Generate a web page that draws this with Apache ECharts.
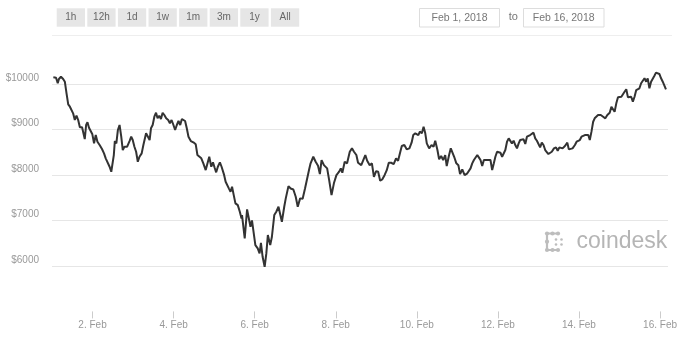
<!DOCTYPE html>
<html>
<head>
<meta charset="utf-8">
<script src="https://cdn.jsdelivr.net/npm/echarts@6/dist/echarts.min.js"></script>
<style>html,body{margin:0;padding:0;background:#fff;}#c{width:680px;height:340px;}</style>
</head>
<body>
<div id="c"></div>
<script>
// hours since Feb 1, 2018 00:00
const hours = [0.8,2.4,3.4,4.1,5.3,6.6,7.6,8.6,9.6,10.6,11.6,12.5,13.5,14.5,15.5,16.5,17.8,18.6,19.4,20.2,21.0,21.9,22.8,23.9,24.9,25.9,26.9,28.2,29.6,30.8,31.8,32.8,34.1,35.1,35.9,36.6,37.2,38.1,39.0,40.0,41.0,41.9,42.9,44.5,45.9,46.9,47.8,48.8,49.8,50.8,51.8,53.1,54.1,54.7,55.7,56.6,57.8,58.6,59.6,60.6,61.6,62.5,63.5,64.5,65.5,66.5,67.6,68.8,69.8,70.8,71.9,72.9,73.9,74.9,75.9,76.9,77.8,78.8,79.8,80.8,82.2,83.7,85.1,86.1,87.2,88.4,89.6,91.0,91.9,93.1,94.3,95.3,96.3,97.2,98.2,99.4,100.4,101.8,102.8,103.7,104.7,105.7,106.6,107.6,108.6,110.0,111.2,112.2,112.5,114.1,115.5,117.5,118.4,120.4,121.8,122.9,123.7,124.7,125.9,126.9,127.8,129.2,130.2,131.6,132.8,134.1,136.1,137.5,138.4,140.0,141.3,142.9,144.3,145.5,146.9,148.4,149.8,150.8,152.2,153.1,154.7,156.1,157.5,158.6,159.6,161.0,162.9,164.1,165.5,166.9,168.4,170.0,171.0,171.9,173.3,174.7,176.3,177.6,178.8,180.2,181.2,182.2,183.1,184.1,185.5,186.6,188.1,189.4,190.6,191.9,193.1,194.3,195.5,196.9,198.2,199.4,200.8,202.3,203.7,204.9,206.0,207.1,208.6,210.0,211.6,212.9,213.9,215.1,215.9,216.9,217.8,219.0,220.0,221.0,221.9,223.3,224.7,225.9,226.9,228.2,229.2,230.4,231.6,232.8,233.7,235.1,236.1,237.1,238.1,239.4,240.6,241.6,242.9,244.3,245.9,246.9,247.8,248.8,249.8,250.8,251.8,252.7,253.7,254.7,255.7,256.6,257.6,258.6,259.6,260.6,261.6,262.5,263.5,264.5,265.5,266.5,267.5,268.4,269.4,270.4,271.4,272.3,273.3,274.3,275.3,276.3,277.2,278.2,279.2,280.2,281.2,282.2,283.1,284.1,285.1,286.1,287.1,288.1,289.0,290.0,291.0,292.0,292.9,293.9,294.9,295.9,297.2,298.4,299.4,300.4,301.3,302.3,303.7,305.1,306.0,307.0,308.2,309.6,310.6,311.6,312.5,313.5,314.5,315.5,316.5,317.5,318.4,319.4,320.4,321.3,322.3,323.3,324.9,326.3,327.6,328.8,330.2,331.2,332.2,333.1,334.1,335.1,336.1,337.1,338.0,339.0,340.0,341.0,341.9,342.9,343.9,344.9,345.9,346.9,347.8,348.8,349.8,350.8,351.8,352.7,353.7,354.7,355.7,356.6,357.6,358.6,359.6,360.6,361.6,362.5,363.5];
const prices = [10154,10145,10022,10117,10167,10117,10057,9802,9559,9507,9529,9361,9214,9308,9214,9053,9053,9031,8795,9104,9163,9044,9088,8899,8700,8883,8736,8663,8575,8480,8370,8370,8185,8075,8090,8443,8751,8700,8993,9104,8846,8553,8626,8626,8751,8846,8773,8626,8515,8295,8405,8480,8663,8700,8921,8883,8773,9031,9104,9286,9374,9251,9308,9236,9374,9324,9251,9214,9141,9214,9104,8993,9104,9192,9104,9236,9264,9192,9031,8846,8751,8722,8678,8443,8458,8370,8260,8112,8112,8405,8185,8282,8163,8062,8185,8282,8185,8018,7855,7892,7709,7634,7744,7561,7379,7341,7194,7048,7121,6608,7247,6864,7004,6460,6387,6277,6511,6203,5983,6277,6681,6460,6644,7121,7194,7304,6974,7304,7489,7758,7707,7685,7524,7304,7489,7480,7707,7685,8117,8260,8405,8295,8207,8022,8330,8220,8150,7890,7560,7820,8000,8075,8150,8053,8295,8260,8515,8590,8515,8443,8273,8295,8220,8260,8443,8317,8220,8260,7963,8088,8075,7876,7905,8000,8110,8273,8273,8245,8370,8317,8480,8641,8663,8568,8590,8715,8883,8921,8958,8883,8958,8921,9066,8921,8700,8590,8663,8626,8758,8553,8348,8420,8333,8443,8200,8443,8590,8553,8405,8260,8220,8022,8125,8000,8040,8000,8150,8260,8333,8348,8443,8392,8333,8200,8333,8295,8333,8295,8333,8112,8260,8405,8515,8515,8493,8405,8443,8553,8736,8810,8832,8700,8758,8663,8590,8700,8773,8736,8789,8685,8846,8861,8883,8921,8935,8810,8758,8773,8612,8715,8663,8553,8538,8465,8493,8515,8590,8612,8538,8612,8568,8590,8641,8715,8568,8538,8590,8663,8736,8736,8773,8846,8810,8883,8846,8883,8773,8958,9176,9251,9214,9324,9324,9286,9251,9324,9374,9507,9471,9397,9581,9713,9742,9727,9764,9837,9890,9713,9670,9727,9617,9727,9874,9837,9912,10022,10079,10132,10057,10132,9912,10057,10095,10183,10256,10300,10227,10132,10057,10095,9890];
const tickHours = [24,72,120,168,216,264,312,360];
const tickLabels = ['2. Feb','4. Feb','6. Feb','8. Feb','10. Feb','12. Feb','14. Feb','16. Feb'];
const yTicks = [6000,7000,8000,9000,10000];
const rangeButtons = ['1h','12h','1d','1w','1m','3m','1y','All'];
const dateFrom = 'Feb 1, 2018';
const dateTo = 'Feb 16, 2018';
const brand = 'coindesk';

const FONT = '"Liberation Sans", Arial, sans-serif';
const chart = echarts.init(document.getElementById('c'));

const graphics = [];
rangeButtons.forEach((b, i) => {
  const x = 56.7 + i * 30.6;
  graphics.push({type:'rect', shape:{x:x, y:8.3, width:28.3, height:18.4}, style:{fill:'#e6e6e6'}, silent:true});
  graphics.push({type:'text', x:x + 14.15, y:17.5, style:{text:b, fill:'#666', font:'10px ' + FONT, textAlign:'center', textVerticalAlign:'middle'}, silent:true});
});
graphics.push({type:'line', shape:{x1:52, y1:35.5, x2:672, y2:35.5}, style:{stroke:'#eeeeee', lineWidth:1}, silent:true});
graphics.push({type:'rect', shape:{x:419.5, y:8.5, width:80, height:18.5}, style:{fill:'#fff', stroke:'#dddddd', lineWidth:1}, silent:true});
graphics.push({type:'text', x:459.5, y:17.8, style:{text:dateFrom, fill:'#777', font:'10.5px ' + FONT, textAlign:'center', textVerticalAlign:'middle'}, silent:true});
graphics.push({type:'text', x:513.3, y:17.3, style:{text:'to', fill:'#777', font:'11px ' + FONT, textAlign:'center', textVerticalAlign:'middle'}, silent:true});
graphics.push({type:'rect', shape:{x:523.5, y:8.5, width:80.5, height:18.5}, style:{fill:'#fff', stroke:'#dddddd', lineWidth:1}, silent:true});
graphics.push({type:'text', x:563.7, y:17.8, style:{text:dateTo, fill:'#777', font:'10.5px ' + FONT, textAlign:'center', textVerticalAlign:'middle'}, silent:true});
// logo icon (dotted bracket)
const ic = '#bdbdbd';
graphics.push({type:'polyline', shape:{points:[[558,233.5],[547,233.5],[547,250],[558,250]]}, style:{stroke:ic, lineWidth:2.2, fill:null}, silent:true});
[[547,233.5],[552.5,233.5],[558,233.5],[547,241.7],[547,250],[552.5,250],[558,250]].forEach(p => {
  graphics.push({type:'circle', shape:{cx:p[0], cy:p[1], r:2.1}, style:{fill:ic}, silent:true});
});
[[556,239.5],[556,244.5],[561.5,239.5],[561.5,244.5]].forEach(p => {
  graphics.push({type:'circle', shape:{cx:p[0], cy:p[1], r:1.3}, style:{fill:ic}, silent:true});
});
graphics.push({type:'text', x:576.5, y:242, style:{text:brand, fill:'#b5b5b5', font:'23px ' + FONT, textAlign:'left', textVerticalAlign:'middle'}, silent:true});

chart.setOption({
  animation: false,
  backgroundColor: '#fff',
  grid: {left: 52, right: 8, top: 38.87, bottom: 28.57, containLabel: false},
  xAxis: {
    type: 'value', min: 0, max: 364.7,
    axisLine: {show: false},
    axisTick: {show: true, customValues: tickHours, length: 7, lineStyle: {color: '#cccccc'}},
    axisLabel: {customValues: tickHours, margin: 9, color: '#999', fontSize: 10, fontFamily: FONT,
      formatter: v => { const i = tickHours.indexOf(Math.round(v)); return i >= 0 ? tickLabels[i] : ''; }},
    splitLine: {show: false}
  },
  yAxis: {
    type: 'value', min: 5000, max: 11000, interval: 1000,
    axisLine: {show: false}, axisTick: {show: false},
    axisLabel: {margin: 13, color: '#999', fontSize: 10, fontFamily: FONT, verticalAlign: 'bottom', lineHeight: 12,
      formatter: v => yTicks.indexOf(v) >= 0 ? '$' + v : ''},
    splitLine: {show: true, showMinLine: false, showMaxLine: false, lineStyle: {color: '#e6e6e6', width: 1}}
  },
  series: [{
    type: 'line',
    data: hours.map((h, i) => [h, prices[i]]),
    showSymbol: false,
    lineStyle: {color: '#333333', width: 2},
    z: 5
  }],
  graphic: graphics
});
</script>
</body>
</html>
